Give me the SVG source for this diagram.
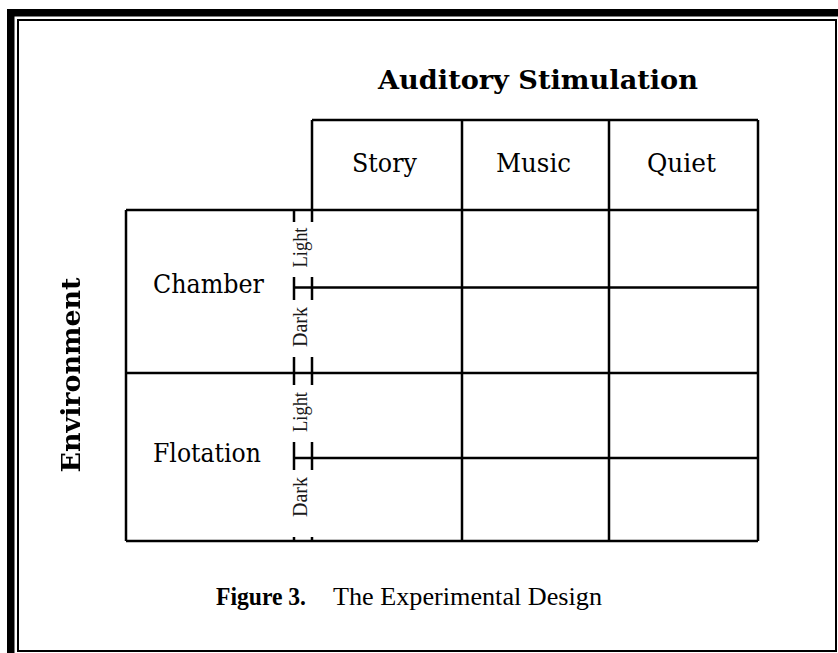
<svg xmlns="http://www.w3.org/2000/svg" width="838" height="653" viewBox="0 0 838 653">
  <style>
    .grid { stroke: #000; stroke-width: 2.5; fill: none; stroke-linecap: butt; }
    .lbl { font-family: "DejaVu Serif", "Liberation Serif", serif; font-size: 26px; fill: #000; }
    .cap { font-family: "Liberation Serif", "DejaVu Serif", serif; font-size: 26px; fill: #000; }
    .bold { font-weight: bold; }
    .tiny { font-family: "Liberation Serif", "DejaVu Serif", serif; font-size: 20px; fill: #1a1a1a; }
  </style>
  <defs>
    <filter id="soft" x="-10%" y="-10%" width="120%" height="120%">
      <feGaussianBlur stdDeviation="0.5"/>
    </filter>
  </defs>

  <rect width="838" height="653" fill="#fff"/>

  <!-- page frame: heavy outer band plus thin inner border -->
  <g id="frame">
    <rect x="10.75" y="12.75" width="900" height="700" fill="none" stroke="#000" stroke-width="7.5"/>
    <rect x="18" y="20" width="818" height="631" fill="none" stroke="#000" stroke-width="2"/>
  </g>

  <!-- table rules -->
  <g id="connectors" class="grid">
    <path d="M312,120 H758"/>
    <path d="M126,210 H758"/>
    <path d="M294,287.5 H758"/>
    <path d="M126,373 H758"/>
    <path d="M294,458 H758"/>
    <path d="M126,541 H758"/>
    <path d="M126,210 V541"/>
    <path d="M462,120 V541"/>
    <path d="M609,120 V541"/>
    <path d="M758,120 V541"/>
    <!-- broken rules framing the Light / Dark sub-labels -->
    <path d="M312,120 V222 M312,277 V300 M312,357 V385 M312,442 V470 M312,537 V541"/>
    <path d="M294,210 V222 M294,277 V300 M294,357 V385 M294,442 V470 M294,537 V541"/>
  </g>

  <g id="title">
    <text class="lbl bold" x="538" y="89" text-anchor="middle" font-size="30" textLength="320" lengthAdjust="spacingAndGlyphs">Auditory Stimulation</text>
  </g>

  <g id="col-story"><text class="lbl" x="384.5" y="172" text-anchor="middle" textLength="65" lengthAdjust="spacingAndGlyphs">Story</text></g>
  <g id="col-music"><text class="lbl" x="533.5" y="172" text-anchor="middle" textLength="75" lengthAdjust="spacingAndGlyphs">Music</text></g>
  <g id="col-quiet"><text class="lbl" x="681.5" y="172" text-anchor="middle" textLength="69" lengthAdjust="spacingAndGlyphs">Quiet</text></g>

  <g id="row-chamber"><text class="lbl" x="153" y="293" textLength="111" lengthAdjust="spacingAndGlyphs">Chamber</text></g>
  <g id="row-flotation"><text class="lbl" x="153" y="462" textLength="108" lengthAdjust="spacingAndGlyphs">Flotation</text></g>

  <g id="sub-chamber-light"><text class="tiny" transform="translate(307,247.5) rotate(-90)" text-anchor="middle" textLength="40" lengthAdjust="spacingAndGlyphs">Light</text></g>
  <g id="sub-chamber-dark"><text class="tiny" transform="translate(307,327) rotate(-90)" text-anchor="middle" textLength="40" lengthAdjust="spacingAndGlyphs">Dark</text></g>
  <g id="sub-flotation-light"><text class="tiny" transform="translate(307,412) rotate(-90)" text-anchor="middle" textLength="40" lengthAdjust="spacingAndGlyphs">Light</text></g>
  <g id="sub-flotation-dark"><text class="tiny" transform="translate(307,497) rotate(-90)" text-anchor="middle" textLength="40" lengthAdjust="spacingAndGlyphs">Dark</text></g>

  <g id="axis-environment">
    <text class="lbl bold" transform="translate(80,375) rotate(-90)" text-anchor="middle" font-size="25" fill="#222" filter="url(#soft)" textLength="195" lengthAdjust="spacingAndGlyphs">Environment</text>
  </g>

  <g id="caption">
    <text class="cap" y="605"><tspan class="bold" x="216" textLength="90" lengthAdjust="spacingAndGlyphs">Figure 3.</tspan><tspan x="333" textLength="269" lengthAdjust="spacingAndGlyphs">The Experimental Design</tspan></text>
  </g>
</svg>
